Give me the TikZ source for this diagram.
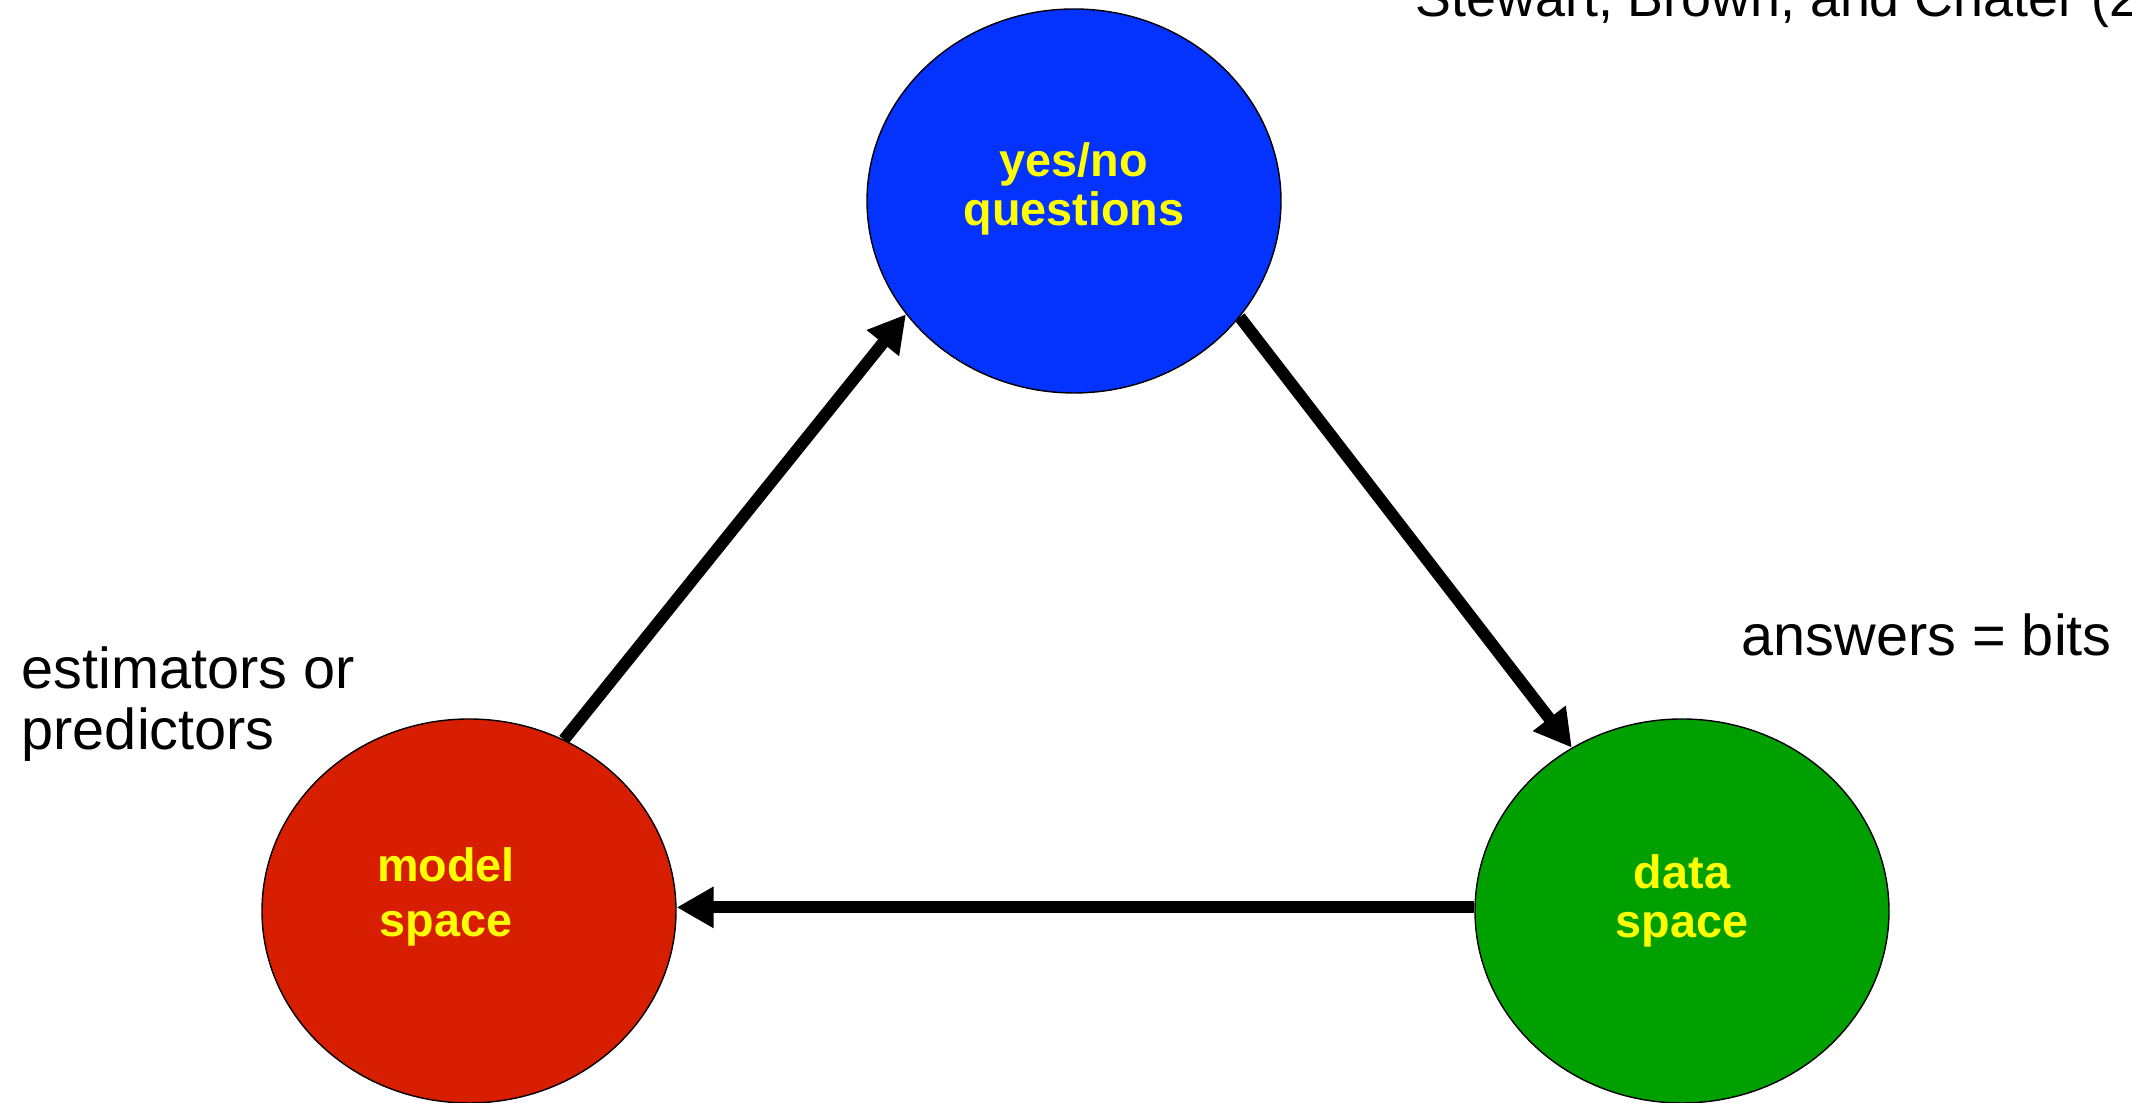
\documentclass[tikz,border=0pt]{standalone}
\usepackage{fontspec}
\setmainfont{Liberation Sans}
\usetikzlibrary{shapes.geometric,arrows.meta}
\definecolor{qblue}{HTML}{0433FF}
\definecolor{mred}{HTML}{D81E00}
\definecolor{dgreen}{HTML}{00A000}
\definecolor{tagyellow}{HTML}{FFFF00}

\begin{document}
\begin{tikzpicture} [
                space/.style={ellipse,draw=black,line width=0.4pt,minimum width=4.14cm,minimum height=3.84cm,inner sep=0pt},
                tag/.style={font=\bfseries\fontsize{13.3pt}{14pt}\selectfont,text=tagyellow,align=center,inner sep=0pt},
                note/.style={font=\fontsize{16.4pt}{17.4pt}\selectfont,align=left,inner sep=0pt},
                link/.style={draw,line width=0.12cm,-{Triangle[length=0.37cm,width=0.39cm]}},
            ]
            \useasboundingbox (0,0) rectangle (21.32,11.03);
            % First we draw the three spaces
            \node[space,fill=qblue,label={[tag,yshift=0.12cm]center:{yes/no\\questions}}] (questions) at (10.74,9.02) {};
            \node[space,fill=mred,label={[tag,font=\bfseries\fontsize{13.3pt}{15.5pt}\selectfont,xshift=-0.23cm,yshift=0.14cm]center:{model\\space}}] (model) at (4.69,1.92) {};
            \node[space,fill=dgreen,label={[tag,yshift=0.10cm]center:{data\\space}}] (data) at (16.82,1.92) {};
            % Connect the spaces round the triangle
            \foreach \source/\dest in {
                    model.61/questions.214,
                    questions.325/data.124,
                    data.179/model.1}
                \path[link] (\source) -- (\dest);
            % Side notes
            \node[note,anchor=north west] (estimators) at (0.21,4.57) {estimators or\\predictors};
            \node[note,anchor=base west] (answers) at (17.41,4.47) {answers = bits};
            \node[note,anchor=base west,font=\fontsize{15.3pt}{16pt}\selectfont] (source) at (14.15,10.86) {Stewart, Brown, and Chater (2};
        \end{tikzpicture}
\end{document}
